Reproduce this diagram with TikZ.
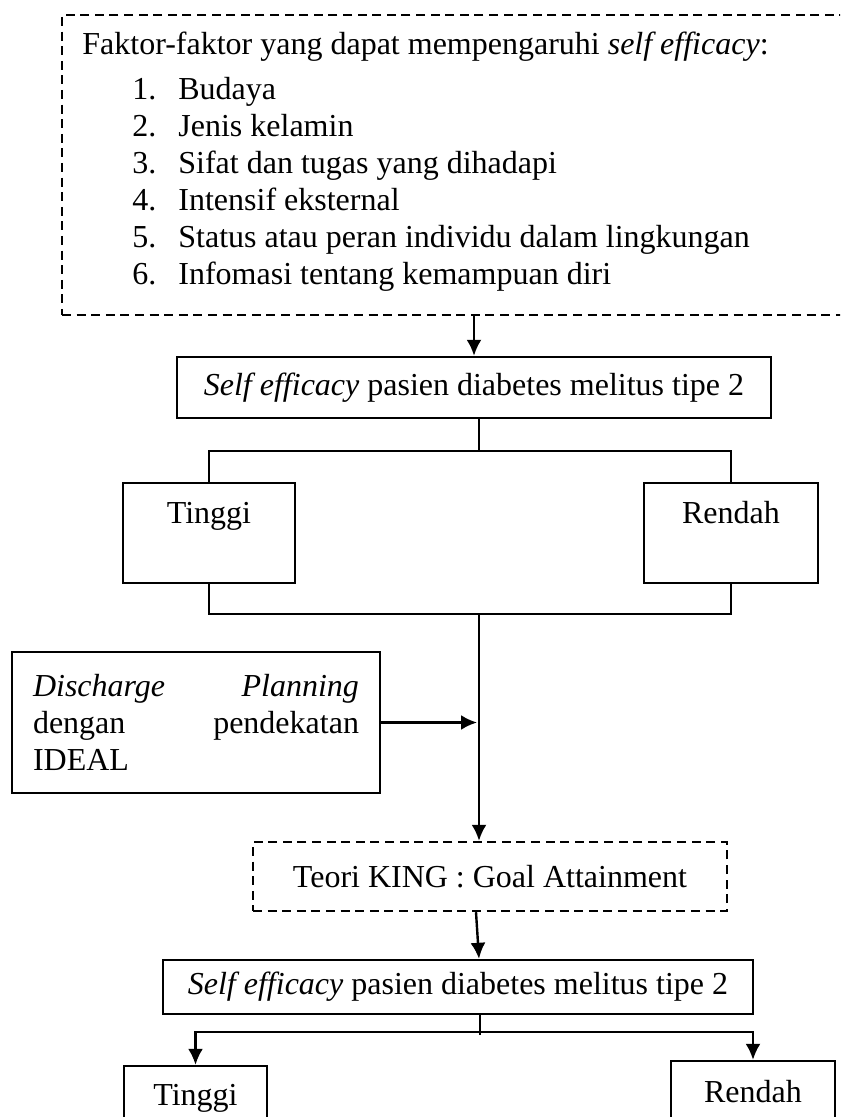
\documentclass[tikz,border=0pt]{standalone}
\usepackage{fontspec}
\setmainfont{Liberation Serif}
\usetikzlibrary{arrows.meta}

\tikzset{
	kotak/.style={draw, line width=1.2pt},
	kotakputus/.style={draw, line width=1.2pt, dash pattern=on 4.5pt off 2.8pt},
	panah/.style={line width=1.2pt, -{Latex[length=8pt,width=7.5pt]}},
	garis/.style={line width=1.2pt}
}

\begin{document}
\begin{tikzpicture}[x=0.5pt, y=-0.5pt, font=\fontsize{16}{18.5}\selectfont]
			\useasboundingbox (0,0) rectangle (840,1117);
			\clip (0,0) rectangle (840,1117);
			% faktor-faktor
			\node[kotakputus, minimum width=399pt, minimum height=150pt, inner sep=0pt] (faktor) at (461,165) {};
			\node[anchor=base west, inner sep=0pt] (judul) at (82,55) {Faktor-faktor yang dapat mempengaruhi \textit{self efficacy}:};
			\foreach \n/\teks in {1/Budaya, 2/Jenis kelamin, 3/Sifat dan tugas yang dihadapi, 4/Intensif eksternal, 5/Status atau peran individu dalam lingkungan, 6/Infomasi tentang kemampuan diri} {
				\node[anchor=base west, inner sep=0pt] (no\n) at (132,{100+37*(\n-1)}) {\n.};
				\node[anchor=base west, inner sep=0pt] (item\n) at (178,{100+37*(\n-1)}) {\teks};
			}
			% self efficacy awal
			\node[kotak, minimum width=297pt, minimum height=30.5pt] (self1) at (474,387.5) {\textit{Self efficacy} pasien diabetes melitus tipe 2};
			\node[kotak, anchor=base, inner ysep=0pt, text height=20pt, text depth=30pt, minimum width=86pt] (tinggi1) at (209,523) {Tinggi};
			\node[kotak, anchor=base, inner ysep=0pt, text height=20pt, text depth=30pt, minimum width=87pt] (rendah1) at (731,523) {Rendah};
			\coordinate (atas) at (479,451);
			\coordinate (bawah) at (479,614);
			\draw[panah] (self1.north |- faktor.south) -- (self1.north);
			\draw[garis] (self1.south -| atas) -- (atas);
			\draw[garis] (tinggi1.north) |- (atas) -| (rendah1.north);
			\draw[garis] (tinggi1.south) |- (bawah) -| (rendah1.south);
			% intervensi
			\node[kotak, text width=163pt, inner xsep=10.5pt, minimum height=70.5pt, align=left] (discharge) at (196,722.5) {\textit{Discharge}\hfill\textit{Planning}\\dengan\hfill pendekatan\\IDEAL};
			\node[kotakputus, minimum width=237pt, minimum height=34.5pt] (teori) at (490,876.5) {Teori KING : Goal Attainment};
			\draw[panah] (bawah) -- (teori.north -| bawah);
			\draw[panah] (discharge.east) -- ([xshift=-1pt]discharge.east -| bawah);
			% self efficacy akhir
			\node[kotak, minimum width=295pt, minimum height=27pt] (self2) at (458,987) {\textit{Self efficacy} pasien diabetes melitus tipe 2};
			\node[kotak, anchor=base, inner ysep=0pt, text height=19.5pt, text depth=40pt, minimum width=71.5pt] (tinggi2) at (195.5,1105) {Tinggi};
			\node[kotak, anchor=base, inner ysep=0pt, text height=20.5pt, text depth=40pt, minimum width=82pt] (rendah2) at (753,1102) {Rendah};
			\coordinate (cabang) at (480,1032);
			\draw[panah] ([xshift=-1.5pt]teori.south -| bawah) -- (self2.north -| bawah);
			\draw[garis] (self2.south -| cabang) -- ([yshift=-1.5pt]cabang);
			\draw[panah] (cabang) -| (tinggi2.north);
			\draw[panah] (cabang) -| (rendah2.north);
		\end{tikzpicture}
\end{document}
